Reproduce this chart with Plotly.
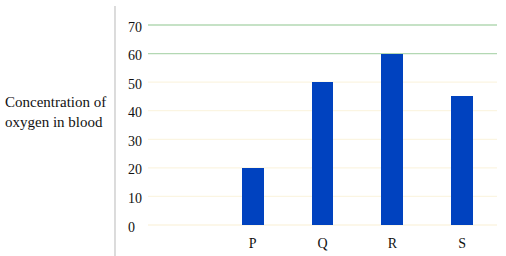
import plotly.graph_objects as go

categories = ["", "P", "Q", "R", "S"]
values = [None, 20, 50, 60, 45]
y_ticks = [0, 10, 20, 30, 40, 50, 60, 70]
grid_colors = ["#fbf5e2", "#fbf5e2", "#fbf5e2", "#fbf5e2", "#fbf5e2", "#fbf5e2", "#b3d8b3", "#b3d8b3"]
y_title = "Concentration of<br>oxygen in blood"

W, H = 506, 256
L, R, T, B = 148, 9, 10, 26
pw, ph = W - L - R, H - T - B

xs = list(range(len(categories)))
fig = go.Figure()
fig.add_trace(go.Bar(x=xs, y=values, width=0.314, marker=dict(color="#0042bf", line=dict(width=0)), showlegend=False))

shapes = []
for v, c in zip(y_ticks, grid_colors):
    shapes.append(dict(type="line", xref="paper", yref="y", x0=0, x1=1, y0=v, y1=v,
                       line=dict(color=c, width=1.3), layer="below"))
# left separator line
xl = (115 - L) / pw
shapes.append(dict(type="line", xref="paper", yref="paper", x0=xl, x1=xl,
                   y0=(T + ph - 256) / ph, y1=(T + ph - 6) / ph, line=dict(color="#c4c4c4", width=1.2)))

annotations = []
for v in y_ticks:
    annotations.append(dict(x=(126 - L) / pw, xref="paper", y=v, yref="y", text=str(v), showarrow=False,
                            xanchor="left", yanchor="middle", yshift=-2,
                            font=dict(family="Liberation Serif", size=14, color="#111")))
annotations.append(dict(x=(3 - L) / pw, xref="paper", y=(T + ph - 112) / ph, yref="paper", text=y_title,
                        showarrow=False, xanchor="left", yanchor="middle", align="left",
                        font=dict(family="Liberation Serif", size=15, color="#111")))

fig.update_layout(
    width=W, height=H, margin=dict(l=L, r=R, t=T, b=B, autoexpand=False),
    paper_bgcolor="white", plot_bgcolor="white",
    xaxis=dict(range=[-0.5, 4.5], tickvals=xs, ticktext=categories, showgrid=False, zeroline=False,
               showline=False, ticks="", ticklabelstandoff=3, automargin=False,
               tickfont=dict(family="Liberation Serif", size=14, color="#111")),
    yaxis=dict(range=[-1.75, 75.25], showgrid=False, zeroline=False, showticklabels=False, showline=False,
               automargin=False),
    shapes=shapes, annotations=annotations, bargap=0,
)
fig.write_html("out.html")
